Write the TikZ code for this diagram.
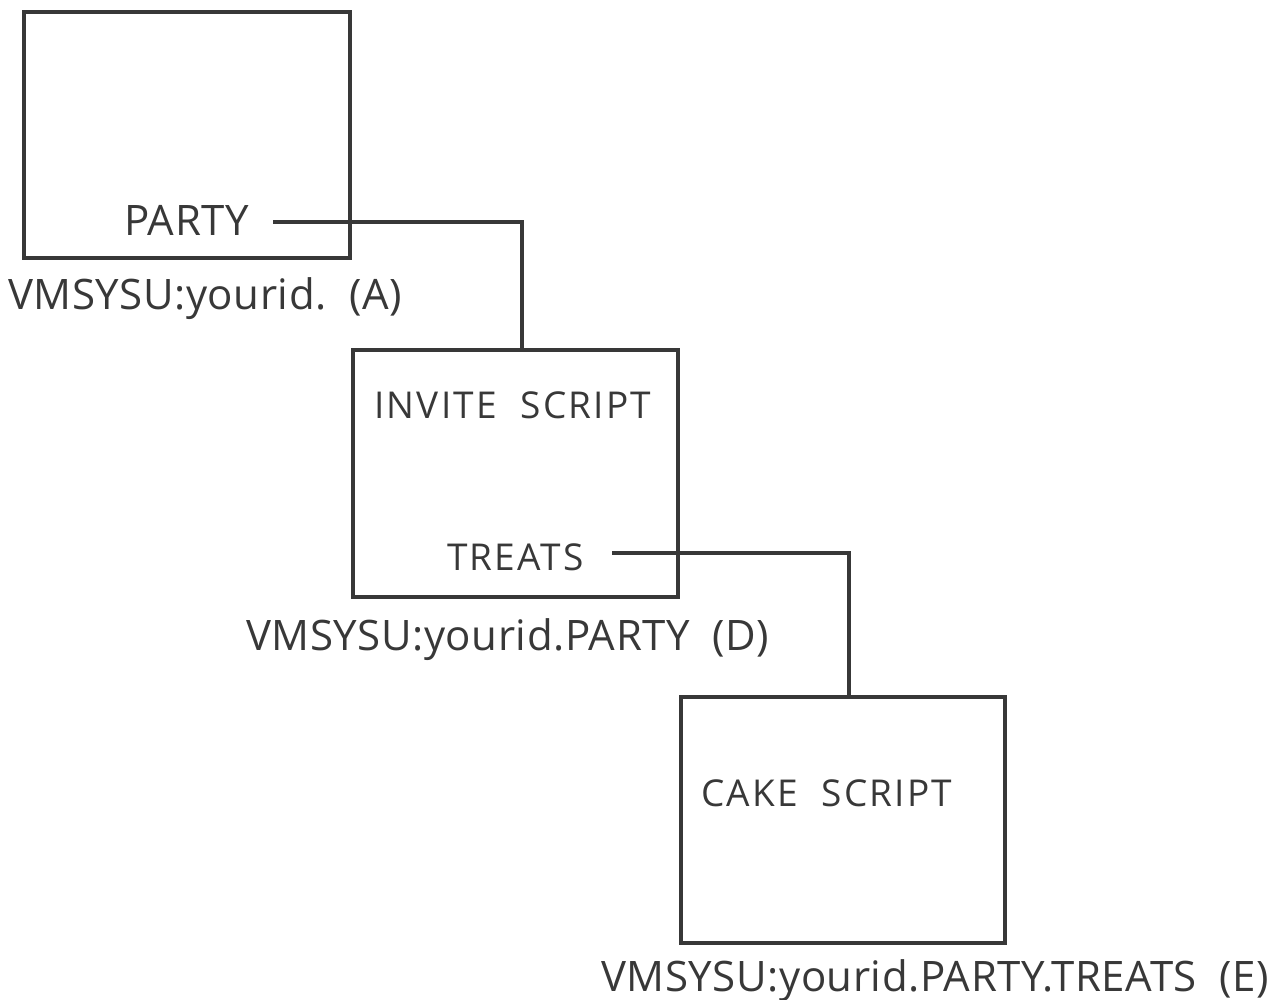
\documentclass[tikz,border=0pt]{standalone}
\usepackage{fontspec}
\setmainfont[LetterSpace=1.3]{Open Sans}
\newfontfamily\spaced[LetterSpace=6]{Open Sans}
\definecolor{ink}{HTML}{383838}
\begin{document}
\begin{tikzpicture}[x=1pt,y=-1pt,
  box/.style={draw=ink,line width=3.5pt,rectangle,inner sep=0pt},
  lbl/.style={anchor=base west,inner sep=0pt,text=ink,font=\fontsize{42}{42}\selectfont},
  slbl/.style={anchor=base west,inner sep=0pt,text=ink,font=\spaced\fontsize{37}{37}\selectfont},
  conn/.style={draw=ink,line width=3.5pt}]
\useasboundingbox (0,0) rectangle (1288,1000);
\node[box,minimum width=326pt,minimum height=246pt] (boxA) at (187,135) {};
\node[box,minimum width=325pt,minimum height=247pt] (boxD) at (515.5,473.5) {};
\node[box,minimum width=324pt,minimum height=246pt] (boxE) at (843,820) {};
\node[lbl] (party) at (124,236) {PARTY};
\node[lbl] (capA) at (8,310) {VMSYSU:yourid.\ \ (A)};
\node[slbl] (invite) at (374,418) {INVITE\ \ SCRIPT};
\node[slbl] (treats) at (447,570) {TREATS};
\node[lbl] (capD) at (246,650) {VMSYSU:yourid.PARTY\ \ (D)};
\node[slbl] (cake) at (701,806) {CAKE\ \ SCRIPT};
\node[lbl] (capE) at (601,991) {VMSYSU:yourid.PARTY.TREATS\ \ (E)};
\coordinate (s1) at (273,222);
\coordinate (e1) at (522,350);
\coordinate (s2) at (612,553);
\coordinate (e2) at (849,697);
\draw[conn] (s1) -| (e1);
\draw[conn] (s2) -| (e2);
\end{tikzpicture}
\end{document}
